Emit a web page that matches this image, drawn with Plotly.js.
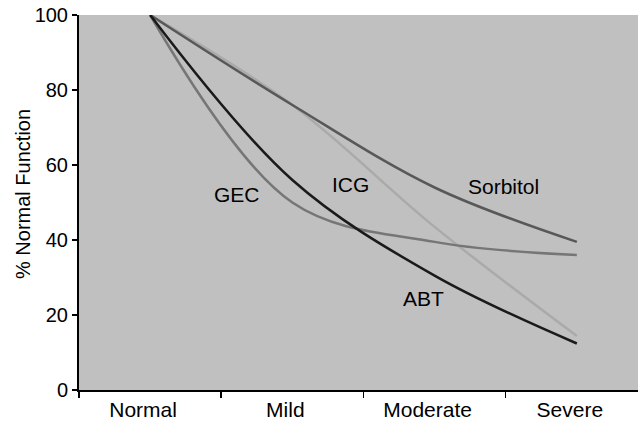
<!DOCTYPE html>
<html>
<head>
<meta charset="utf-8">
<script src="https://cdn.plot.ly/plotly-3.0.1.min.js"></script>
<style>html,body{margin:0;padding:0;background:#fff;}#chart{width:638px;height:424px;}</style>
</head>
<body>
<div id="chart"></div>
<script>
var categories = ["Normal", "Mild", "Moderate", "Severe"];
var icg = [100, 76, 43.5, 14.4];
var sorbitol = [100, 76, 54, 39.5];
var gec = [100, 50, 39.5, 36];
var abt = [100, 56, 30.5, 12.4];
var yTicks = [0, 20, 40, 60, 80, 100];
var yTitle = "% Normal Function";
var labelNames = ["GEC", "ICG", "Sorbitol", "ABT"];
var labelX = [0.608, 1.412, 2.483, 1.925];
var labelY = [52.1, 54.7, 54.4, 24.5];

function tr(y, color) {
  return {x: categories, y: y, type: 'scatter', mode: 'lines',
    line: {color: color, width: 2.5, shape: 'spline', smoothing: 1},
    hoverinfo: 'skip', showlegend: false};
}
var data = [tr(icg, '#aaaaaa'), tr(sorbitol, '#585858'), tr(gec, '#767676'), tr(abt, '#1a1a1a')];

var annotations = labelNames.map(function(t, i) {
  return {x: labelX[i], y: labelY[i], xref: 'x', yref: 'y', text: t, showarrow: false,
    xanchor: 'center', yanchor: 'middle',
    font: {family: 'Liberation Sans, Arial, sans-serif', size: 21, color: '#000'}};
});
annotations.push({x: -0.1, y: 0.523, xref: 'paper', yref: 'paper', text: yTitle,
  showarrow: false, textangle: -90, xanchor: 'center', yanchor: 'middle',
  font: {family: 'Liberation Sans, Arial, sans-serif', size: 20, color: '#000'}});

var layout = {
  width: 638, height: 424,
  margin: {l: 79, r: 0, t: 15, b: 34, pad: 0},
  paper_bgcolor: '#ffffff', plot_bgcolor: '#c0c0c0',
  font: {family: 'Liberation Sans, Arial, sans-serif', size: 20, color: '#000'},
  showlegend: false,
  xaxis: {type: 'category', range: [-0.5, 3.43], tickson: 'boundaries',
    ticks: 'outside', ticklen: 6, tickwidth: 1.5, tickcolor: '#000',
    showline: true, linecolor: '#000', linewidth: 2, showgrid: false, zeroline: false,
    tickfont: {size: 21}, ticklabelshift: -7},
  yaxis: {range: [0, 100], tickvals: yTicks, ticks: 'outside', ticklen: 5, tickwidth: 1.5,
    tickcolor: '#000', showline: true, linecolor: '#000', linewidth: 2, showgrid: false,
    zeroline: false, tickfont: {size: 20}},
  annotations: annotations
};
Plotly.newPlot('chart', data, layout, {displayModeBar: false, staticPlot: true});
</script>
</body>
</html>
